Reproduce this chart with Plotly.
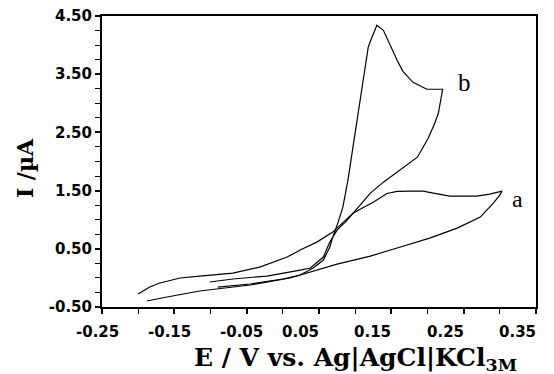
import plotly.graph_objects as go

# Curve a: forward (anodic) branch then reverse branch
a_fwd_E = [-0.200, -0.184, -0.170, -0.142, -0.115, -0.069, -0.032, 0.006, 0.024, 0.047,
           0.069, 0.083, 0.097, 0.110, 0.125, 0.144, 0.158, 0.176, 0.194, 0.208, 0.231,
           0.268, 0.286, 0.303]
a_fwd_I = [-0.277, -0.157, -0.088, -0.002, 0.032, 0.083, 0.186, 0.358, 0.478, 0.615,
           0.787, 0.942, 1.113, 1.200, 1.300, 1.450, 1.487, 1.491, 1.491, 1.457, 1.405,
           1.405, 1.439, 1.491]
a_rev_E = [0.303, 0.300, 0.291, 0.273, 0.241, 0.203, 0.158, 0.121, 0.075, 0.042,
           0.010, -0.045, -0.087, -0.115, -0.160, -0.188]
a_rev_I = [1.491, 1.422, 1.285, 1.045, 0.856, 0.684, 0.513, 0.375, 0.238, 0.118,
           -0.002, -0.122, -0.191, -0.225, -0.328, -0.397]

# Curve b
b_fwd_E = [-0.090, -0.045, 0.000, 0.024, 0.042, 0.056, 0.065, 0.069, 0.076, 0.083,
           0.090, 0.104, 0.118, 0.121, 0.130, 0.139, 0.145, 0.158, 0.166, 0.180,
           0.199, 0.221]
b_fwd_I = [-0.157, -0.105, -0.019, 0.049, 0.169, 0.307, 0.530, 0.701, 0.942, 1.216,
           1.680, 2.795, 3.962, 4.065, 4.340, 4.254, 4.082, 3.739, 3.550, 3.361,
           3.241, 3.241]
b_rev_E = [0.221, 0.219, 0.215, 0.210, 0.201, 0.186, 0.162, 0.139, 0.121, 0.107,
           0.089, 0.075, 0.065, 0.056, 0.038, 0.024, -0.022, -0.069, -0.101]
b_rev_I = [3.241, 3.104, 2.829, 2.658, 2.400, 2.074, 1.851, 1.645, 1.456, 1.250,
           0.993, 0.821, 0.615, 0.358, 0.169, 0.135, 0.032, -0.019, -0.071]

x_ticks = [-0.25, -0.15, -0.05, 0.05, 0.15, 0.25, 0.35]
y_ticks = [-0.50, 0.50, 1.50, 2.50, 3.50, 4.50]

line_style = dict(color="black", width=1.2)

fig = go.Figure()
fig.add_trace(go.Scatter(x=a_fwd_E + a_rev_E, y=a_fwd_I + a_rev_I, mode="lines",
                         line=line_style, showlegend=False))
fig.add_trace(go.Scatter(x=b_fwd_E + b_rev_E, y=b_fwd_I + b_rev_I, mode="lines",
                         line=line_style, showlegend=False))

tick_font = dict(family="DejaVu Sans", size=15, color="black")
serif = "DejaVu Serif"

# x tick labels: in the original they sit a little left of their ticks
x_label_annotations = [
    dict(text=f"<b>{v:.2f}</b>", x=v, xref="x", y=0, yref="paper",
         xanchor="right" if v > 0 else "center", yanchor="middle",
         xshift=2 if v > 0 else -5, yshift=-25, showarrow=False, font=tick_font)
    for v in x_ticks
]

fig.update_layout(
    width=554, height=374,
    margin=dict(l=102, r=18, t=16, b=67),
    paper_bgcolor="white", plot_bgcolor="white",
    xaxis=dict(range=[-0.25, 0.35], tickvals=x_ticks, showticklabels=False,
               ticks="outside", ticklen=5, tickwidth=1.5, tickcolor="black",
               minor=dict(dtick=0.05, tick0=-0.25, ticks="outside", ticklen=5,
                          tickwidth=1.2, tickcolor="black"),
               showline=True, linecolor="black", linewidth=2, mirror=True,
               showgrid=False, zeroline=False, automargin=False),
    yaxis=dict(range=[-0.5, 4.5], tickvals=y_ticks,
               ticktext=[f"<b>{v:.2f}</b>" for v in y_ticks],
               ticks="outside", ticklen=5, tickwidth=1.5, tickcolor="black",
               minor=dict(dtick=0.25, tick0=-0.5, ticks="outside", ticklen=5,
                          tickwidth=1.2, tickcolor="black"),
               showline=True, linecolor="black", linewidth=2, mirror=True,
               showgrid=False, zeroline=False, tickfont=tick_font,
               automargin=False, ticklabeloverflow="allow"),
    annotations=x_label_annotations + [
        dict(text="<b>E / V vs. Ag|AgCl|KCl<sub>3M</sub></b>", xref="paper", yref="paper",
             x=0.585, y=-0.18, showarrow=False, xanchor="center", yanchor="middle",
             font=dict(family=serif, size=25, color="black")),
        dict(text="<b>I /µA</b>", xref="paper", yref="paper", textangle=-90,
             x=-0.177, y=0.478, showarrow=False, xanchor="center", yanchor="middle",
             font=dict(family=serif, size=22, color="black")),
        dict(text="a", x=0.314, y=1.36, xref="x", yref="y", showarrow=False,
             xanchor="left", yanchor="middle",
             font=dict(family="Liberation Serif", size=24, color="black")),
        dict(text="b", x=0.240, y=3.36, xref="x", yref="y", showarrow=False,
             xanchor="left", yanchor="middle",
             font=dict(family="Liberation Serif", size=25, color="black")),
    ],
)

fig.write_html("out.html")
